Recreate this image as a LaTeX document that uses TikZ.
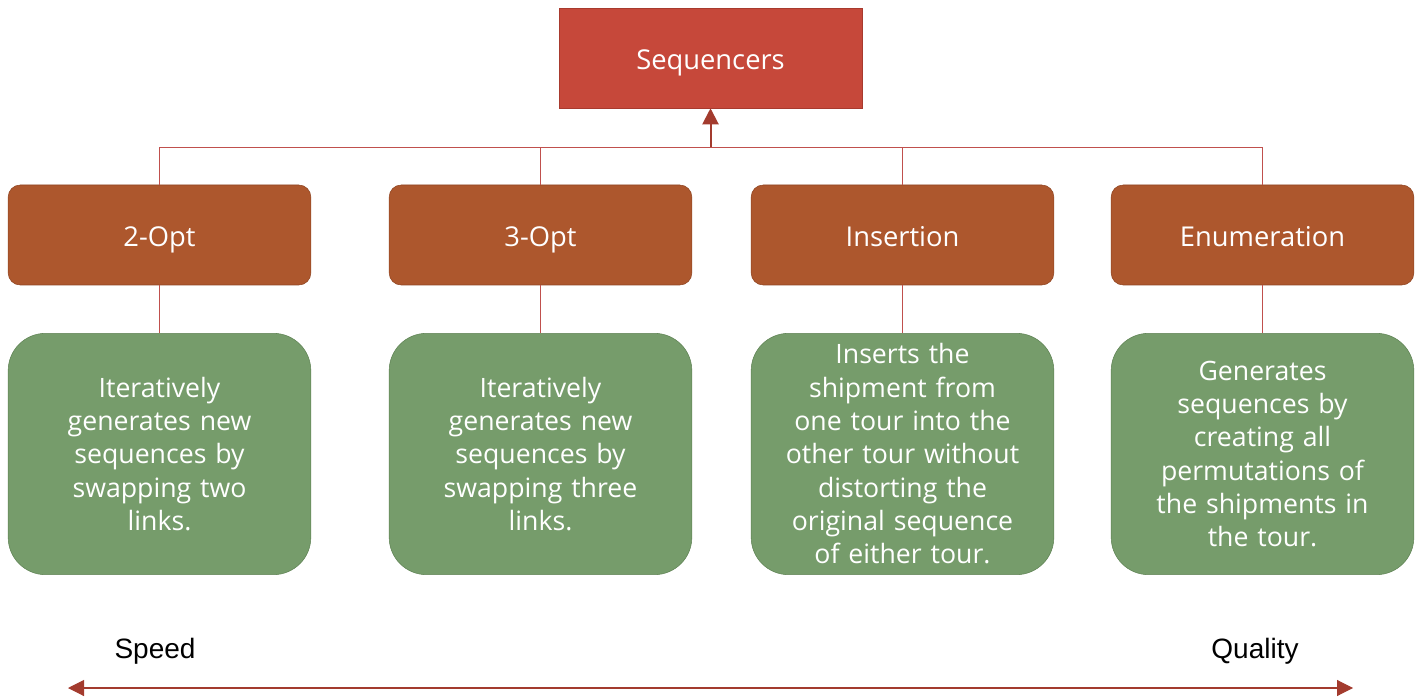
\documentclass[tikz,border=0pt]{standalone}
\usepackage{fontspec}
\setmainfont{Open Sans}
\newfontfamily\labelfont{Liberation Sans}
\usetikzlibrary{arrows.meta,positioning}
\definecolor{seqred}{HTML}{C6483A}
\definecolor{seqedge}{HTML}{A83A2E}
\definecolor{algo}{HTML}{AD572D}
\definecolor{algoedge}{HTML}{8F4522}
\definecolor{descr}{HTML}{769C6B}
\definecolor{descredge}{HTML}{5E8253}
\definecolor{linkred}{HTML}{C0504D}
\definecolor{arrred}{HTML}{A33B2E}

\begin{document}
\begin{tikzpicture}[
  x=0.75pt, y=0.75pt,
  >=Stealth,
  header/.style={draw=seqedge, fill=seqred, minimum width=227pt, minimum height=75pt, text=white, text height=18pt, text depth=1pt, font=\fontsize{20.5}{24}\selectfont},
  algobox/.style={draw=algoedge, fill=algo, rounded corners=9pt, minimum width=227pt, minimum height=75pt, text=white, text height=18pt, text depth=1pt, font=\fontsize{20.5}{24}\selectfont},
  descbox/.style={draw=descredge, fill=descr, rounded corners=28pt, minimum width=227pt, minimum height=181pt, text width=200pt, align=center, text=white, font=\fontsize{20}{25}\selectfont},
  link/.style={draw=linkred, line width=0.6pt},
  arr/.style={-{Triangle[length=12pt,width=12pt]}, draw=arrred, line width=1.5pt},
  axis/.style={{Triangle[length=12pt,width=12pt]}-{Triangle[length=12pt,width=12pt]}, draw=linkred, line width=0.8pt, color=arrred},
  endlabel/.style={font=\labelfont\fontsize{21}{25}\selectfont},
]
\useasboundingbox (0,0) rectangle (1423,697);

% top node
\node[header] (seq) at (710.5, 639) {Sequencers};

% algorithms
\node[algobox] (opt2) at (159.5, 462) {2-Opt};
\node[algobox] (opt3) at (540.5, 462) {3-Opt};
\node[algobox] (ins) at (902.5, 462) {Insertion};
\node[algobox] (enum) at (1262.5, 462) {Enumeration};

% descriptions
\node[descbox] (d2) at (159.5, 243) {Iteratively\\generates new\\sequences by\\swapping two\\links.};
\node[descbox] (d3) at (540.5, 243) {Iteratively\\generates new\\sequences by\\swapping three\\links.};
\node[descbox] (dins) at (902.5, 243) {Inserts the\\shipment from\\one tour into the\\other tour without\\distorting the\\original sequence\\of either tour.};
\node[descbox] (denum) at (1262.5, 243) {Generates\\sequences by\\creating all\\permutations of\\the shipments in\\the tour.};

% tree
\coordinate (bus) at (710.5, 550);
\draw[link] (opt2.north) -- (opt2.north |- bus) -- (enum.north |- bus) -- (enum.north);
\draw[link] (opt3.north) -- (opt3.north |- bus);
\draw[link] (ins.north) -- (ins.north |- bus);
\draw[arr] (bus) -- (seq.south);

\draw[link] (opt2.south) -- (d2.north);
\draw[link] (opt3.south) -- (d3.north);
\draw[link] (ins.south) -- (dins.north);
\draw[link] (enum.south) -- (denum.north);

% speed vs quality
\node[endlabel] (speed) at (155, 46) {Speed};
\node[endlabel] (quality) at (1255, 46) {Quality};
\coordinate (fast) at (68, 9);
\coordinate (good) at (1353, 9);
\draw[axis] (fast) -- (good);

\end{tikzpicture}
\end{document}
